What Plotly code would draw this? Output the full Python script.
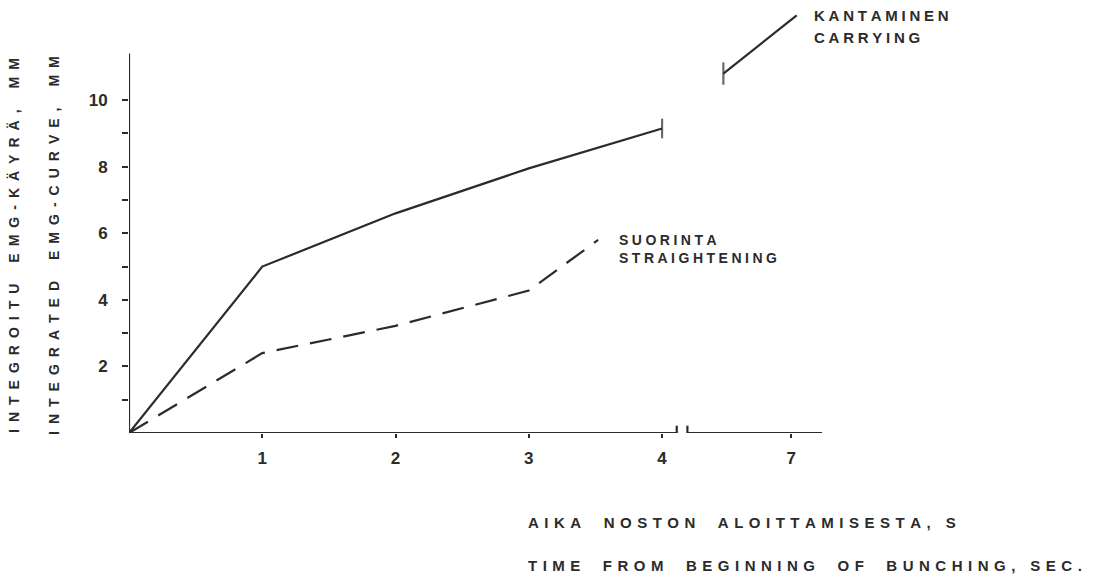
import plotly.graph_objects as go

# ---- data (display x positions; axis is broken between 4 and 7) ----
x_tick_vals = [1, 2, 3, 4, 4.97]
x_tick_text = ["1", "2", "3", "4", "7"]
y_tick_vals = [1, 2, 3, 4, 5, 6, 7, 8, 9, 10]
y_tick_text = ["", "2", "", "4", "", "6", "", "8", "", "10"]

bunching_x = [0, 1, 2, 3, 4]
bunching_y = [0, 5.0, 6.6, 7.95, 9.15]

straight_x = [0, 1, 2, 3, 3.52]
straight_y = [0, 2.4, 3.22, 4.28, 5.8]

carry_x = [4.46, 5.01]
carry_y = [10.8, 12.55]

INK = "#2b2b2b"
FONT = "Liberation Sans"

X_SEP = "\u2006\u2009"
WORD_SEP = "\u2003\u2002"


def spaced(text, sep=X_SEP, word_sep=WORD_SEP):
    words = text.split(" ")
    return word_sep.join(sep.join(list(w)) for w in words)


fig = go.Figure()

fig.add_trace(go.Scatter(
    x=bunching_x, y=bunching_y, mode="lines+markers",
    line=dict(color=INK, width=2.2),
    marker=dict(symbol=["circle"] * 4 + ["line-ns-open"], size=[0, 0, 0, 0, 14],
                line=dict(color=INK, width=2.2), color=INK),
    showlegend=False, hoverinfo="skip"))

fig.add_trace(go.Scatter(
    x=straight_x, y=straight_y, mode="lines",
    line=dict(color=INK, width=2.2, dash="22px,12px"),
    showlegend=False, hoverinfo="skip"))

fig.add_trace(go.Scatter(
    x=carry_x, y=carry_y, mode="lines+markers",
    line=dict(color=INK, width=2.2),
    marker=dict(symbol=["line-ns-open", "circle"], size=[16, 0],
                line=dict(color=INK, width=2.2), color=INK),
    showlegend=False, hoverinfo="skip"))

# axis lines (x axis broken between 4 and 7)
line_style = dict(color=INK, width=2.2)
fig.add_shape(type="line", x0=0, x1=4.11, y0=0, y1=0, line=line_style)
fig.add_shape(type="line", x0=4.19, x1=5.2, y0=0, y1=0, line=line_style)
fig.add_shape(type="line", x0=4.11, x1=4.11, y0=-0.22, y1=0.22, line=line_style)
fig.add_shape(type="line", x0=4.19, x1=4.19, y0=-0.22, y1=0.22, line=line_style)
fig.add_shape(type="line", x0=0, x1=0, y0=0, y1=11.4, line=line_style)

L, T, W, H = 129, 7, 693, 426

ann = [
    dict(text=spaced("KANTAMINEN", sep="\u2005"), px=812, py=16, size=15),
    dict(text=spaced("CARRYING", sep="\u2005"), px=812, py=37, size=15),
    dict(text=spaced("SUORINTA", sep="\u2005"), px=617, py=240, size=14),
    dict(text=spaced("STRAIGHTENING", sep="\u2005"), px=617, py=258, size=14),
    dict(text=spaced("AIKA NOSTON ALOITTAMISESTA,") + "\u2003" + "S",
         px=526, py=522, size=15),
    dict(text=spaced("TIME FROM BEGINNING OF BUNCHING,") + "\u2003"
         + spaced("SEC."), px=526, py=565, size=15),
]

for a in ann:
    fig.add_annotation(
        text=a["text"], xref="paper", yref="paper",
        x=(a["px"] - L) / W, y=1 - (a["py"] - T) / H,
        xanchor="left", yanchor="middle", showarrow=False,
        font=dict(family=FONT, size=a["size"], color=INK, weight="bold"))

for txt, px in [("INTEGROITU EMG-KÄYRÄ, MM", 14), ("INTEGRATED EMG-CURVE, MM", 54)]:
    fig.add_annotation(
        text=spaced(txt, sep="\u2002", word_sep="\u2003\u2002"),
        xref="paper", yref="paper", x=(px - L) / W, y=1 - (246 - T) / H,
        xanchor="center", yanchor="middle", textangle=-90, showarrow=False,
        font=dict(family=FONT, size=14, color=INK, weight="bold"))

fig.update_layout(
    width=1097, height=577,
    margin=dict(l=L, r=1097 - L - W, t=T, b=577 - T - H, autoexpand=False),
    paper_bgcolor="white", plot_bgcolor="white",
    xaxis=dict(range=[0, 5.2], showgrid=False, zeroline=False, showline=False,
               tickmode="array", tickvals=x_tick_vals, ticktext=x_tick_text,
               ticks="outside", ticklen=4, tickwidth=2, tickcolor=INK,
               ticklabelstandoff=6,
               tickfont=dict(family=FONT, size=17, color=INK, weight="bold")),
    yaxis=dict(range=[0, 12.8], showgrid=False, zeroline=False, showline=False,
               tickmode="array", tickvals=y_tick_vals, ticktext=y_tick_text,
               ticks="outside", ticklen=6, tickwidth=2, tickcolor=INK,
               ticklabelstandoff=11,
               tickfont=dict(family=FONT, size=17, color=INK, weight="bold")),
)

fig.write_html("out.html", config={"displayModeBar": False},
               post_script="document.body.style.margin='0';")
